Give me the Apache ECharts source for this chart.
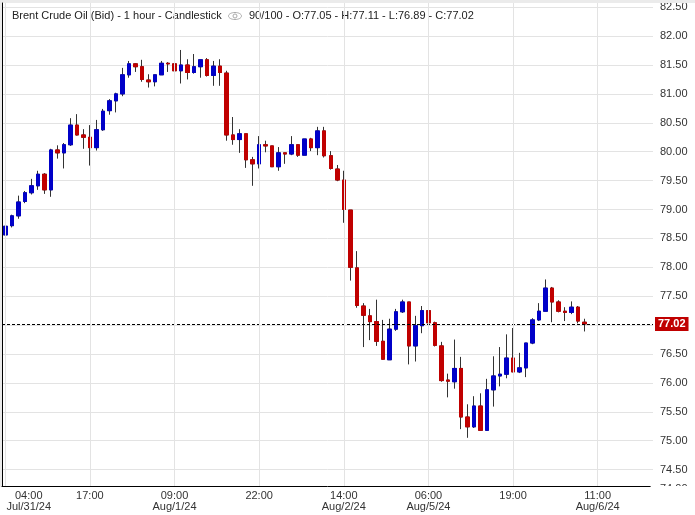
<!DOCTYPE html>
<html><head><meta charset="utf-8">
<script src="https://cdn.jsdelivr.net/npm/echarts@6/dist/echarts.min.js"></script>
<style>html,body{margin:0;padding:0;background:#fff}#c{width:695px;height:515px}</style>
</head><body><div id="c"></div>
<script>
// ---- data (Brent Crude Oil, 1 hour candles) ----
const opens = [78.56,78.72,78.89,79.14,79.29,79.41,79.61,79.34,80.03,79.98,
80.12,80.46,80.29,80.25,80.07,80.38,80.71,80.88,81.00,81.33,
81.52,81.47,81.24,81.21,81.33,81.53,81.52,81.40,81.50,81.37,
81.47,81.59,81.32,81.48,81.36,80.29,80.21,80.31,79.86,79.79,
80.12,80.10,79.74,79.98,79.96,80.12,79.94,80.22,80.07,80.36,
79.93,79.70,79.51,78.99,77.99,77.33,77.16,77.06,76.72,76.40,
76.93,77.23,77.40,76.64,76.99,77.25,77.04,76.64,76.05,76.02,
76.25,75.41,75.24,75.60,75.18,75.88,76.12,76.15,76.43,76.19,
76.26,76.69,77.09,77.24,77.64,77.40,77.24,77.22,77.31,77.05];
const highs = [78.75,78.91,79.24,79.32,79.53,79.67,79.63,80.05,80.11,80.15,
80.58,80.65,80.39,80.46,80.55,80.74,80.91,81.02,81.45,81.57,
81.53,81.59,81.34,81.33,81.57,81.55,81.53,81.76,81.60,81.69,
81.59,81.62,81.57,81.60,81.40,80.60,80.39,80.31,79.91,80.27,
80.19,80.10,80.08,79.98,80.27,80.13,80.22,80.24,80.43,80.43,
80.01,79.77,79.67,78.99,78.28,77.38,77.28,77.44,77.09,77.11,
77.28,77.44,77.40,77.16,77.33,77.33,77.06,76.71,76.16,76.75,
76.45,75.63,75.77,75.82,76.07,76.46,76.62,76.84,76.95,76.52,
76.69,77.12,77.38,77.79,77.66,77.43,77.31,77.41,77.33,77.11];
const lows = [78.49,78.69,78.84,79.11,79.26,79.34,79.27,79.22,79.88,79.71,
80.10,80.28,80.05,79.76,80.02,80.36,80.64,80.68,80.96,81.28,
81.38,81.21,81.11,81.13,81.33,81.38,81.32,81.18,81.25,81.35,
81.28,81.30,81.14,81.14,80.19,80.12,79.98,79.72,79.41,79.71,
79.99,79.74,79.67,79.79,79.94,79.91,79.94,80.01,79.94,79.90,
79.69,79.49,78.77,77.77,77.30,76.62,76.74,76.64,76.40,76.40,
76.90,77.21,76.32,76.37,76.86,76.97,76.63,76.02,75.75,75.90,
75.20,75.05,75.22,75.17,75.17,75.59,75.94,76.08,76.19,76.17,
76.10,76.67,77.07,77.24,77.05,77.22,77.07,77.19,77.03,76.89];
const closes = [78.71,78.89,79.13,79.29,79.41,79.61,79.34,80.03,79.98,80.12,
80.46,80.29,80.25,80.07,80.38,80.70,80.88,81.00,81.33,81.52,
81.47,81.25,81.21,81.33,81.53,81.52,81.40,81.50,81.37,81.47,
81.59,81.32,81.48,81.37,80.29,80.21,80.31,79.86,79.79,80.12,
80.10,79.74,79.98,79.96,80.12,79.94,80.22,80.07,80.36,79.93,
79.71,79.51,79.00,78.00,77.34,77.17,77.06,76.72,76.41,76.93,
77.23,77.40,76.64,76.99,77.25,77.04,76.65,76.04,76.03,76.25,
75.41,75.24,75.60,75.18,75.88,76.12,76.15,76.43,76.19,76.26,
76.69,77.09,77.24,77.64,77.40,77.24,77.22,77.31,77.07,77.02];

const slotCount = 100;                       // bars visible on the chart (90 filled)
const tickIndex = [0, 13, 26, 39, 52, 65, 78, 91];
const tickText = ['04:00\nJul/31/24', '17:00', '09:00\nAug/1/24', '22:00',
                  '14:00\nAug/2/24', '06:00\nAug/5/24', '19:00', '11:00\nAug/6/24'];
const yMin = 74.5, yMax = 82.5, yStep = 0.5;
const lastPrice = 77.02;
const hiddenBottomLabel = '74.00';
const titleMain = 'Brent Crude Oil (Bid) - 1 hour - Candlestick';
const titleStats = '90/100 - O:77.05 - H:77.11 - L:76.89 - C:77.02';

// ---- build ----
const UP = '#0000c8', DOWN = '#c00000', WICK = '#333333';
const FONT = '"Liberation Sans", Arial, sans-serif';
const categories = [];
for (let i = 0; i < slotCount; i++) categories.push(String(i));
const labelFor = {};
tickIndex.forEach((k, j) => { labelFor[k] = tickText[j]; });

const ohlc = opens.map((o, i) => [o, closes[i], lows[i], highs[i]]);
const bodies = opens.map((o, i) => [o, closes[i], Math.min(o, closes[i]), Math.max(o, closes[i])]);

const pxPerUnit = 57.8;
const yTopPx = 7.2;
const gridH = (yMax - yMin) * pxPerUnit;
const plotLeft = 2, plotWidth = 651, plotBottom = 486.5, axisRight = 650;

const xCats1 = categories.map((c, i) => i === 0 ? {value: c, textStyle: {padding: [0, 0, 0, 47]}} : c);

const chart = echarts.init(document.getElementById('c'), null, {renderer: 'canvas'});
chart.setOption({
  animation: false,
  backgroundColor: '#fff',
  grid: [
    {left: plotLeft, width: plotWidth, top: yTopPx, height: gridH, containLabel: false, outerBoundsMode: 'none'},
    {left: plotLeft, width: plotWidth, top: 3, height: plotBottom - 3, containLabel: false, outerBoundsMode: 'none'},
    {left: plotLeft, width: axisRight - plotLeft, top: 3, height: plotBottom - 3, containLabel: false, outerBoundsMode: 'none'}
  ],
  xAxis: [
    {type: 'category', gridIndex: 0, data: categories, boundaryGap: true, show: false},
    {type: 'category', gridIndex: 1, data: xCats1, boundaryGap: true, z: 60,
     axisLine: {show: true, lineStyle: {color: '#000', width: 1}},
     axisTick: {show: false},
     axisLabel: {interval: (idx) => labelFor[idx] !== undefined,
                 formatter: (v, idx) => labelFor[idx] || '',
                 color: '#333', fontSize: 11, fontFamily: FONT, lineHeight: 11, margin: 4},
     splitLine: {show: true, alignWithLabel: true, interval: (idx) => labelFor[idx] !== undefined,
                 lineStyle: {color: '#e3e3e3', width: 1}}},
    {type: 'value', gridIndex: 2, show: false, min: 0, max: 1}
  ],
  yAxis: [
    {type: 'value', gridIndex: 0, position: 'right', min: yMin, max: yMax, interval: yStep,
     axisLine: {show: false}, axisTick: {show: false},
     axisLabel: {color: '#333', fontSize: 11, fontFamily: FONT, margin: 7,
                 formatter: (v) => v.toFixed(2)},
     splitLine: {show: true, lineStyle: {color: '#e3e3e3', width: 1}}},
    {type: 'value', gridIndex: 1, show: false, min: 0, max: 1},
    {type: 'value', gridIndex: 2, position: 'right', min: 0, max: 1, z: 61,
     axisLine: {show: true, lineStyle: {color: '#000', width: 1}},
     axisTick: {show: false}, axisLabel: {show: false}, splitLine: {show: false}}
  ],
  series: [
    {type: 'candlestick', xAxisIndex: 0, yAxisIndex: 0, data: ohlc, barWidth: 4,
     itemStyle: {color: UP, color0: DOWN, borderColor: WICK, borderColor0: WICK, borderWidth: 1},
     markLine: {silent: true, symbol: ['none', 'none'], animation: false,
       data: [{yAxis: lastPrice}],
       lineStyle: {color: '#000', width: 1, type: [3, 2]},
       label: {show: true, position: 'end', distance: 2, formatter: lastPrice.toFixed(2),
               backgroundColor: DOWN, color: '#fff', fontWeight: 'bold', fontSize: 11,
               fontFamily: FONT, padding: [2, 3, 1, 3]}}},
    {type: 'candlestick', xAxisIndex: 0, yAxisIndex: 0, data: bodies, barWidth: 4,
     itemStyle: {color: UP, color0: DOWN, borderColor: UP, borderColor0: DOWN, borderWidth: 1}}
  ],
  graphic: [
    {type: 'rect', shape: {x: 0, y: 0, width: 695, height: 3}, style: {fill: '#ebebeb'}, z: 50},
    {type: 'rect', shape: {x: 0, y: 0, width: 2, height: 487}, style: {fill: '#ebebeb'}, z: 50},
    {type: 'text', x: 12, y: 15.5, z: 50,
     style: {text: titleMain, font: '11px ' + FONT, fill: '#222', verticalAlign: 'middle'}},
    {type: 'ellipse', shape: {cx: 235, cy: 16, rx: 6.5, ry: 3.5}, style: {fill: 'none', stroke: '#aaa', lineWidth: 1}, z: 50},
    {type: 'circle', shape: {cx: 235, cy: 16, r: 2}, style: {fill: 'none', stroke: '#aaa', lineWidth: 1}, z: 50},
    {type: 'text', x: 249, y: 15.5, z: 50,
     style: {text: titleStats, font: '11px ' + FONT, fill: '#222', verticalAlign: 'middle'}},
    {type: 'text', x: 660, y: 489, z: 98,
     style: {text: hiddenBottomLabel, font: '11px ' + FONT, fill: '#333', verticalAlign: 'middle'}},
    {type: 'rect', shape: {x: 650.6, y: 486, width: 45, height: 29}, style: {fill: '#fff'}, z: 99}
  ]
});
</script></body></html>
